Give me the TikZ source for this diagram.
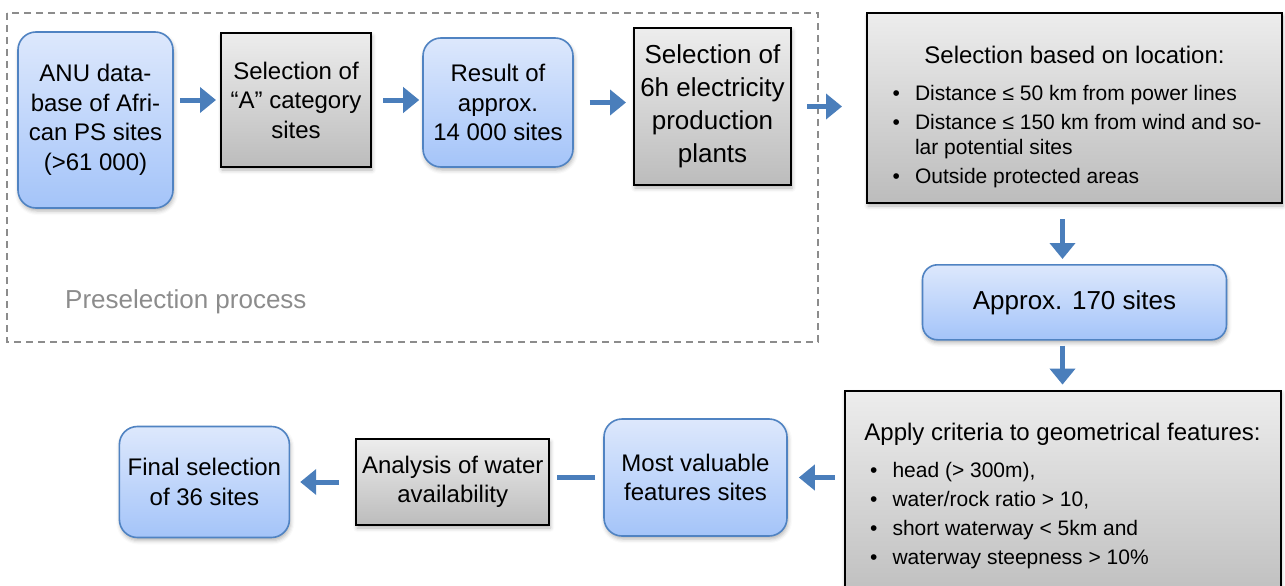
\documentclass[tikz,border=0pt]{standalone}
\usepackage{fontspec}
\setmainfont{Liberation Sans}
\usetikzlibrary{arrows.meta,positioning,shadows.blur}

\definecolor{sitetop}{HTML}{DDE8FC}
\definecolor{sitebot}{HTML}{A4C4F9}
\definecolor{siteedge}{HTML}{5083C2}
\definecolor{steptop}{HTML}{EDEDED}
\definecolor{stepbot}{HTML}{BCBCBC}
\definecolor{flowblue}{HTML}{4A7EBB}
\definecolor{framegray}{HTML}{8C8C8C}

% bullet list used inside the two criteria boxes
\newenvironment{critlist}{%
  \begin{list}{\textbullet}{%
    \setlength{\leftmargin}{48pt}\setlength{\labelwidth}{8pt}%
    \setlength{\labelsep}{15pt}\setlength{\itemsep}{4pt}%
    \setlength{\parsep}{0pt}\setlength{\topsep}{0pt}%
    \setlength{\partopsep}{0pt}}%
  \fontsize{21}{25}\selectfont\raggedright}
  {\end{list}}

\tikzset{
	site/.style={
		rectangle,
		rounded corners=18pt,
		draw=siteedge,
		line width=1.6pt,
		top color=sitetop,
		bottom color=sitebot,
		align=center,
		inner sep=0pt,
		font=\fontsize{24}{29.5}\selectfont,
		blur shadow={shadow xshift=1pt,shadow yshift=-3pt,shadow blur radius=4pt,shadow opacity=30},
	},
	stepbox/.style={
		rectangle,
		draw=black,
		line width=2pt,
		top color=steptop,
		bottom color=stepbot,
		align=center,
		inner sep=0pt,
		font=\fontsize{24}{29.5}\selectfont,
		blur shadow={shadow xshift=1pt,shadow yshift=-3pt,shadow blur radius=4pt,shadow opacity=30},
	},
	flow/.style={
		-{Triangle[length=16pt,width=25pt]},
		line width=5pt,
		draw=flowblue,
	},
	link/.style={
		line width=5pt,
		draw=flowblue,
	},
	preframe/.style={
		draw=framegray,
		line width=1.5pt,
		dash pattern=on 7pt off 5pt,
	},
	grouplabel/.style={
		text=framegray,
		inner sep=0pt,
		font=\fontsize{26}{30}\selectfont,
	},
}

\begin{document}
\begin{tikzpicture}[x=1pt,y=-1pt]
\useasboundingbox (0,0) rectangle (1285,586);
\clip (0,0) rectangle (1285,586);

% preselection group
\draw[preframe] (7,13) rectangle (818,342);
\node[grouplabel,anchor=west] (presel) at (65,302) {Preselection process};

\node[site,minimum width=155pt,minimum height=176pt] (anu) at (95.5,120)
  {ANU data-\\base of Afri-\\can PS sites\\(>61 000)};
\node[stepbox,minimum width=150pt,minimum height=134pt] (acat) at (296,100)
  {Selection of\\“A” category\\sites};
\node[site,minimum width=150pt,minimum height=129pt] (res14) at (498,102.5)
  {Result of\\approx.\\14 000 sites};
\node[stepbox,minimum width=157pt,minimum height=157pt,font=\fontsize{26}{33}\selectfont] (plants) at (712.5,106.5)
  {Selection of\\6h electricity\\production\\plants};

\node[stepbox] (location) at (1074.5,108)
  {\parbox[c][190pt][t]{415pt}{\vspace*{33pt}\centering
    Selection based on location:\par
    \vspace{12.5pt}
    \begin{critlist}
    \item Distance ≤ 50 km from power lines
    \item Distance ≤ 150 km from wind and so-\\lar potential sites
    \item Outside protected areas
    \end{critlist}}};

\node[site,minimum width=304pt,minimum height=75pt,rounded corners=15pt,font=\fontsize{26}{30}\selectfont] (res170)
  [below=60pt of location] {Approx. 170 sites};

\node[stepbox] (geom) [below=49pt of res170,xshift=-12pt]
  {\parbox[c][220pt][t]{436pt}{\vspace*{32.5pt}\centering
    Apply criteria to geometrical features:\par
    \vspace{12.5pt}
    \begin{critlist}
    \item head (> 300m),
    \item water/rock ratio > 10,
    \item short waterway < 5km and
    \item waterway steepness > 10\%
    \end{critlist}}};

\node[site,minimum width=183pt,minimum height=117pt] (valuable) at (695.5,477.5)
  {Most valuable\\features sites};
\node[stepbox,minimum width=193pt,minimum height=86pt] (water) [left=53pt of valuable,yshift=-4.5pt]
  {Analysis of water\\availability};
\node[site,minimum width=170pt,minimum height=111pt] (final) [left=65pt of water]
  {Final selection\\of 36 sites};

% connectors
\draw[flow,shorten <=6pt,shorten >=4pt] (anu.east |- acat.west) -- (acat.west);
\draw[flow,shorten <=11pt,shorten >=3pt] (acat.east) -- (acat.east -| res14.west);
\draw[flow,shorten <=16pt,shorten >=7pt] (res14.east) -- (res14.east -| plants.west);
\draw[flow,shorten <=15pt,shorten >=24pt] (plants.east) -- (plants.east -| location.west);
\draw[flow,shorten <=15pt,shorten >=5pt] (geom.north |- location.south) -- (geom.north |- res170.north);
\draw[flow,shorten <=5pt,shorten >=5pt] (geom.north |- res170.south) -- (geom.north);
\draw[flow,shorten <=9pt,shorten >=11pt] (valuable.east -| geom.west) -- (valuable.east);
\draw[link,shorten <=8pt,shorten >=7pt] (valuable.west) -- (valuable.west -| water.east);
\draw[flow,shorten <=16pt,shorten >=10pt] (water.west) -- (water.west -| final.east);

\end{tikzpicture}
\end{document}
